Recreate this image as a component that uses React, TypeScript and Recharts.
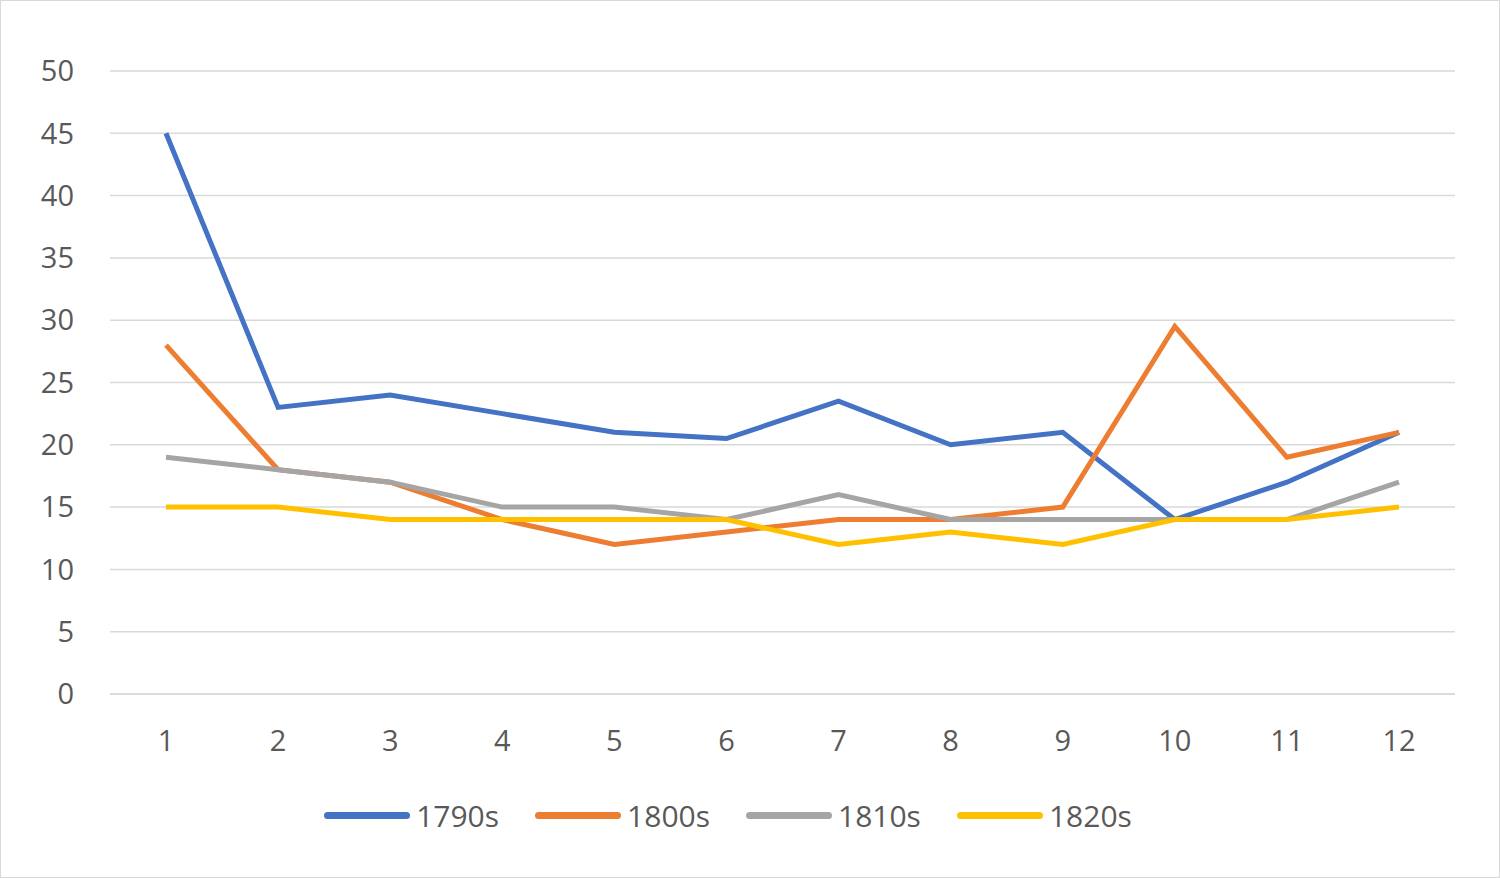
import React from 'react';
import { LineChart, Line, XAxis, YAxis, CartesianGrid, Legend } from 'recharts';

const months = ['1','2','3','4','5','6','7','8','9','10','11','12'];
const s1790 = [45, 23, 24, 22.5, 21, 20.5, 23.5, 20, 21, 14, 17, 21];
const s1800 = [28, 18, 17, 14, 12, 13, 14, 14, 15, 29.5, 19, 21];
const s1810 = [19, 18, 17, 15, 15, 14, 16, 14, 14, 14, 14, 17];
const s1820 = [15, 15, 14, 14, 14, 14, 12, 13, 12, 14, 14, 15];
const yTicks = [0, 5, 10, 15, 20, 25, 30, 35, 40, 45, 50];

const series = [
  { key: '1790s', color: '#4472C4' },
  { key: '1800s', color: '#ED7D31' },
  { key: '1810s', color: '#A5A5A5' },
  { key: '1820s', color: '#FFC000' },
];

const data = months.map((m, i) => ({
  m, '1790s': s1790[i], '1800s': s1800[i], '1810s': s1810[i], '1820s': s1820[i],
}));

const FONT = '"Open Sans", "Liberation Sans", sans-serif';

const LegendContent = () => (
  <div style={{ display: 'flex', justifyContent: 'center', gap: 36, fontFamily: FONT, fontSize: 30, color: '#595959' }}>
    {series.map(s => (
      <div key={s.key} style={{ display: 'flex', alignItems: 'center' }}>
        <div style={{ width: 86, height: 7, borderRadius: 4, background: s.color, marginRight: 6 }} />
        <span>{s.key}</span>
      </div>
    ))}
  </div>
);

export default function App() {
  return (
    <div style={{ position: 'absolute', left: 0, top: 0, width: 1500, height: 878, background: '#fff', boxSizing: 'border-box', border: '1px solid #d9d9d9' }}>
      <LineChart width={1498} height={876} data={data} margin={{ top: 70, right: 44, bottom: 0, left: 0 }}>
        <CartesianGrid vertical={false} stroke="#d9d9d9" strokeWidth={1.5} />
        <XAxis dataKey="m" stroke="#d9d9d9" strokeWidth={1.5} tickLine={false} height={142} tickMargin={30}
          padding={{ left: 56, right: 56 }}
          tick={{ fill: '#595959', fontSize: 29, fontFamily: FONT }} />
        <YAxis domain={[0, 50]} ticks={yTicks} axisLine={false} tickLine={false} tickSize={0} tickMargin={36} width={109}
          tick={{ fill: '#595959', fontSize: 29, fontFamily: FONT }} />
        <Legend content={<LegendContent />} wrapperStyle={{ top: 794 }} />
        {series.map(s => (
          <Line key={s.key} dataKey={s.key} stroke={s.color} strokeWidth={5} dot={false} isAnimationActive={false} />
        ))}
      </LineChart>
    </div>
  );
}
